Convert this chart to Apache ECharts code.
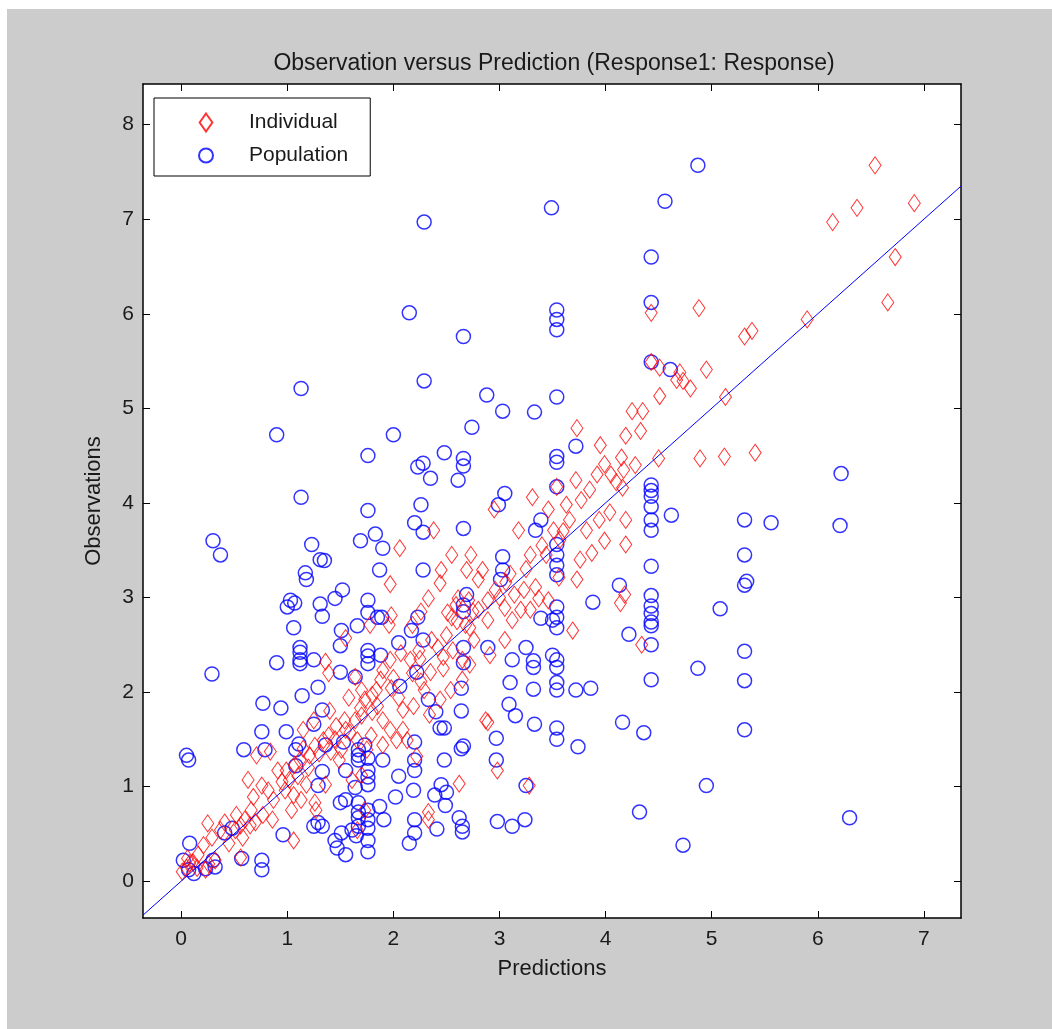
<!DOCTYPE html>
<html>
<head>
<meta charset="utf-8">
<script src="https://cdn.jsdelivr.net/npm/echarts@6/dist/echarts.min.js"></script>
<style>
html,body{margin:0;padding:0;background:#ffffff;}
#bg{position:absolute;left:7px;top:9px;width:1045px;height:1020px;background:#cccccc;}
#chart{position:absolute;left:0;top:0;width:1052px;height:1029px;}
</style>
</head>
<body>
<div id="bg"></div>
<div id="chart"></div>
<script>
// ---- Data ----
var titleText = 'Observation versus Prediction (Response1: Response)';
var xAxisName = 'Predictions';
var yAxisName = 'Observations';
var xTicks = [0, 1, 2, 3, 4, 5, 6, 7];
var yTicks = [0, 1, 2, 3, 4, 5, 6, 7, 8];
var xRange = [-0.36, 7.35];
var yRange = [-0.39, 8.43];

var individualPoints = [
[6.54,7.57],[6.91,7.17],[6.37,7.12],[6.14,6.97],[6.73,6.60],[6.66,6.12],[5.90,5.94],[4.88,6.06],[4.43,6.01],
[5.31,5.76],[5.38,5.82],[4.95,5.41],[4.43,5.49],[4.51,5.43],[4.70,5.38],[4.67,5.30],[4.73,5.29],[4.80,5.21],
[5.13,5.12],[4.51,5.13],[4.25,4.97],[4.35,4.97],[4.33,4.76],[4.19,4.71],[3.73,4.79],[3.95,4.61],[4.50,4.47],
[4.89,4.47],[5.12,4.49],[5.41,4.53],[4.15,4.48],[4.28,4.40],[3.99,4.41],[3.92,4.30],[4.05,4.30],[4.17,4.35],
[4.10,4.22],[3.85,4.14],[3.72,4.24],[3.54,4.17],[3.77,4.03],[3.63,3.98],[3.31,4.06],[2.95,3.93],[4.16,4.16],
[4.19,3.82],[4.19,3.56],[3.99,3.60],[3.82,3.71],[3.66,3.82],[3.46,3.93],[3.51,3.71],[3.57,3.61],[3.18,3.71],
[3.44,3.45],[3.29,3.45],[2.06,3.52],[2.38,3.71],[2.55,3.45],[2.45,3.29],[2.69,3.29],[1.97,3.14],[3.73,3.19],
[4.18,3.03],[4.14,2.94],[2.96,3.08],[3.06,3.16],[3.14,3.03],[3.23,3.08],[3.34,3.11],[3.37,2.99],[3.05,2.89],
[3.20,2.87],[2.80,2.87],[2.71,2.97],[2.59,2.92],[2.61,2.99],[2.51,2.84],[2.55,2.79],[2.89,2.76],[2.68,2.71],
[2.72,2.68],[2.76,2.55],[3.69,2.65],[1.78,2.71],[1.55,2.57],[1.96,2.71],[2.18,2.71],[2.36,2.55],[2.42,2.47],
[2.47,2.37],[2.56,2.44],[2.65,2.34],[2.24,2.44],[2.07,2.41],[1.97,2.34],[1.90,2.23],[1.88,2.13],[1.80,1.97],
[2.16,2.34],[2.18,2.20],[2.26,2.11],[2.35,2.21],[2.47,2.25],[2.72,2.29],[1.36,2.32],[1.39,2.20],[1.64,2.16],
[1.70,2.02],[1.73,1.92],[1.84,2.02],[1.98,2.04],[2.05,1.94],[2.09,1.81],[2.19,1.85],[2.29,2.02],[2.34,1.76],
[2.89,1.68],[2.98,1.17],[4.34,2.50],[1.58,1.94],[1.69,1.83],[1.70,1.75],[1.80,1.79],[1.90,1.70],[1.97,1.60],
[1.64,1.70],[1.54,1.70],[1.46,1.64],[1.39,1.54],[1.34,1.49],[1.26,1.43],[1.41,1.37],[1.49,1.28],[1.59,1.57],
[1.66,1.49],[1.75,1.39],[1.79,1.54],[2.09,1.60],[2.13,1.49],[2.22,1.32],[1.51,1.39],[1.21,1.33],[1.12,1.28],
[1.07,1.23],[0.99,1.17],[1.02,1.07],[1.10,1.11],[1.18,1.02],[1.06,0.91],[1.13,0.86],[0.98,0.96],[1.04,0.75],
[1.06,0.43],[0.87,0.86],[0.82,0.96],[0.76,1.01],[0.71,1.33],[0.84,1.37],[0.91,1.17],[0.63,1.07],[0.68,0.89],
[0.77,0.70],[0.86,0.65],[0.66,0.75],[0.60,0.65],[0.56,0.59],[0.58,0.46],[0.65,0.59],[0.51,0.54],[0.41,0.62],
[0.37,0.54],[0.56,0.25],[0.29,0.46],[0.25,0.61],[0.21,0.38],[0.16,0.28],[0.08,0.19],[0.05,0.14],[0.11,0.20],
[0.15,0.14],[0.01,0.10],[0.06,0.24],[0.23,0.12],[0.26,0.18],[0.32,0.22],[1.36,1.02],[1.61,1.07],[1.26,0.83],
[1.27,0.75],[1.73,0.75],[1.66,0.54],[2.33,0.65],[2.33,0.73],[2.62,1.03],[3.28,1.01],[2.87,1.70],[2.73,3.45],
[2.89,2.97],[3.12,2.76],[3.29,2.87],[3.46,2.97],[3.56,3.21],[3.76,3.40],[3.87,3.47],[3.94,3.82],[4.04,3.90],
[3.05,2.55],[2.91,2.39],[2.54,2.02],[2.65,2.13],[2.44,1.92],[1.98,2.81],[2.44,3.15],[2.33,2.99],[2.26,2.85],
[2.80,3.19],[2.84,3.29],[2.03,1.49],[1.90,1.44],[1.70,1.12],
[1.20,1.20],[1.30,1.35],[1.45,1.50],[1.55,1.60],[1.15,1.40],[0.95,1.05],[0.70,0.62],[0.52,0.70],[0.45,0.40],
[1.85,1.85],[2.00,2.15],[2.25,2.35],[2.50,2.60],[2.60,2.75],[2.75,2.85],[3.00,3.00],[3.10,3.25],[3.25,3.30],
[3.40,3.55],[3.60,3.70],[1.40,1.80],[1.25,1.70],[1.15,1.60]
];

var populationPoints = [
[4.87,7.57],[4.56,7.19],[3.49,7.12],[2.29,6.97],[4.43,6.60],[4.43,6.12],[3.54,6.04],[3.54,5.94],[3.54,5.83],
[2.15,6.01],[2.66,5.76],[4.43,5.49],[4.61,5.41],[1.13,5.21],[2.29,5.29],[2.88,5.14],[3.54,5.12],[3.03,4.97],
[3.33,4.96],[2.74,4.80],[0.90,4.72],[2.00,4.72],[1.76,4.50],[2.48,4.53],[3.54,4.49],[3.54,4.43],[2.23,4.38],
[2.28,4.42],[2.66,4.47],[2.66,4.39],[2.35,4.26],[2.61,4.24],[3.72,4.60],[4.43,4.19],[4.43,4.13],[4.43,4.07],
[3.54,4.17],[1.13,4.06],[3.05,4.10],[2.99,3.98],[2.26,3.98],[1.76,3.92],[4.62,3.87],[3.39,3.82],[5.31,3.82],
[5.56,3.79],[6.22,4.31],[6.21,3.76],[4.43,3.96],[4.43,3.82],[4.43,3.71],[2.20,3.79],[2.28,3.69],[2.66,3.73],
[3.34,3.71],[1.83,3.67],[0.30,3.60],[0.37,3.45],[1.23,3.56],[1.69,3.60],[1.90,3.52],[1.31,3.40],[1.35,3.39],
[5.31,3.45],[5.31,3.13],[5.33,3.17],[4.43,3.33],[4.13,3.13],[3.54,3.56],[3.54,3.45],[3.54,3.34],[3.54,3.24],
[3.03,3.43],[3.03,3.29],[2.28,3.29],[1.87,3.29],[1.52,3.08],[1.17,3.26],[1.18,3.19],[1.03,2.97],[1.00,2.90],
[1.07,2.94],[1.31,2.93],[1.45,2.99],[1.76,2.97],[1.85,2.79],[1.89,2.79],[1.76,2.84],[1.33,2.80],[1.06,2.68],
[1.51,2.65],[1.66,2.70],[3.88,2.95],[4.22,2.61],[4.43,3.02],[4.43,2.91],[4.43,2.83],[4.43,2.74],[4.43,2.70],
[5.08,2.88],[3.39,2.78],[3.50,2.76],[3.54,2.90],[3.54,2.79],[3.54,2.68],[2.23,2.79],[2.69,3.03],[2.66,2.92],
[2.66,2.85],[3.01,3.19],[1.12,2.47],[1.12,2.42],[1.12,2.34],[1.12,2.30],[1.25,2.34],[1.50,2.49],[1.76,2.44],
[1.76,2.38],[1.76,2.30],[1.88,2.39],[2.17,2.65],[2.28,2.55],[2.05,2.52],[2.66,2.47],[2.66,2.31],[2.89,2.47],
[3.12,2.34],[3.25,2.47],[3.32,2.33],[3.32,2.26],[3.50,2.39],[3.54,2.34],[3.54,2.26],[3.10,2.10],[3.32,2.03],
[3.54,2.10],[3.54,2.02],[3.72,2.02],[3.86,2.04],[4.87,2.25],[5.31,2.12],[5.31,2.43],[4.43,2.13],[4.43,2.50],
[0.90,2.31],[0.29,2.19],[1.14,1.96],[1.29,2.05],[1.50,2.21],[1.64,2.16],[2.06,2.06],[2.22,2.21],[2.33,1.92],
[2.64,2.04],[2.40,1.79],[2.64,1.80],[3.09,1.87],[3.33,1.66],[3.15,1.75],[2.97,1.51],[3.54,1.62],[3.54,1.50],
[4.16,1.68],[5.31,1.60],[4.36,1.57],[0.77,1.88],[0.94,1.83],[1.33,1.81],[0.76,1.58],[0.99,1.58],[1.25,1.66],
[1.11,1.45],[1.08,1.39],[0.59,1.39],[0.79,1.39],[1.36,1.44],[1.53,1.47],[1.73,1.44],[1.76,1.30],[2.44,1.62],
[2.48,1.62],[2.20,1.47],[2.66,1.43],[2.64,1.40],[3.74,1.42],[1.08,1.22],[1.33,1.16],[1.55,1.17],[1.67,1.39],
[1.67,1.33],[1.67,1.28],[1.76,1.17],[2.20,1.28],[2.20,1.17],[1.90,1.28],[2.48,1.28],[2.05,1.11],[2.97,1.28],
[0.05,1.33],[0.07,1.28],[1.29,1.01],[1.76,1.10],[1.76,1.02],[1.64,0.99],[2.45,1.02],[2.50,0.94],[2.19,0.96],
[2.39,0.91],[3.25,1.01],[4.95,1.01],[2.02,0.89],[2.49,0.80],[1.87,0.79],[1.50,0.83],[1.55,0.86],[1.67,0.83],
[1.67,0.73],[1.67,0.67],[1.67,0.58],[1.76,0.75],[1.76,0.65],[1.76,0.56],[4.32,0.73],[1.91,0.65],[2.20,0.65],
[2.20,0.51],[2.62,0.67],[2.65,0.58],[2.65,0.52],[6.30,0.67],[2.98,0.63],[3.24,0.65],[3.12,0.58],[2.41,0.55],
[0.96,0.49],[1.29,0.62],[1.25,0.58],[1.33,0.58],[1.61,0.54],[1.65,0.48],[1.45,0.43],[1.51,0.51],[1.47,0.35],
[1.55,0.28],[1.76,0.43],[1.76,0.31],[4.73,0.38],[2.15,0.40],[0.76,0.22],[0.76,0.12],[0.08,0.40],[0.02,0.22],
[0.12,0.08],[0.30,0.22],[0.32,0.15],[0.23,0.13],[0.07,0.12],[0.57,0.24],[0.41,0.51],[0.48,0.56]
];

// identity reference line spans the axis range
var identityLine = [[xRange[0], xRange[0]], [xRange[1], xRange[1]]];

var FONT = 'Arial, "Liberation Sans", sans-serif';
var chart = echarts.init(document.getElementById('chart'), null, {renderer: 'canvas'});

function axisCommon(ticks, showLabels, pos, margin) {
  return {
    type: 'value',
    position: pos,
    splitLine: {show: false},
    axisLine: {show: true, onZero: false, lineStyle: {color: '#000', width: 1.5}},
    axisTick: {show: true, inside: true, length: 7, customValues: ticks, lineStyle: {color: '#000', width: 1}},
    axisLabel: {show: showLabels, customValues: ticks, color: '#1a1a1a', fontFamily: FONT, fontSize: 21, margin: margin},
  };
}

var xBottom = Object.assign(axisCommon(xTicks, true, 'bottom', 11), {
  min: xRange[0], max: xRange[1], name: xAxisName, nameLocation: 'middle', nameGap: 40,
  nameTextStyle: {color: '#1a1a1a', fontFamily: FONT, fontSize: 22}
});
var xTop = Object.assign(axisCommon(xTicks, false, 'top', 8), {min: xRange[0], max: xRange[1]});
var yLeft = Object.assign(axisCommon(yTicks, true, 'left', 9), {
  min: yRange[0], max: yRange[1], name: yAxisName, nameLocation: 'middle', nameGap: 38,
  nameTextStyle: {color: '#1a1a1a', fontFamily: FONT, fontSize: 22}
});
var yRight = Object.assign(axisCommon(yTicks, false, 'right', 8), {min: yRange[0], max: yRange[1]});

chart.setOption({
  backgroundColor: 'transparent',
  animation: false,
  title: {
    text: titleText, left: 549, top: 47, textAlign: 'center',
    textStyle: {color: '#1a1a1a', fontFamily: FONT, fontSize: 23, fontWeight: 'normal'}
  },
  grid: {left: 143, top: 84, width: 818, height: 834, backgroundColor: '#ffffff', show: true, borderWidth: 0},
  legend: {
    left: 154, top: 98, orient: 'vertical',
    backgroundColor: '#ffffff', borderColor: '#000', borderWidth: 1,
    padding: [14, 22, 10, 44], itemGap: 12, itemWidth: 14, itemHeight: 18,
    textStyle: {color: '#1a1a1a', fontFamily: FONT, fontSize: 21, padding: [0, 0, 0, 31]},
    data: [
      {name: 'Individual', icon: 'path://M6,0L12,8.5L6,17L0,8.5Z'},
      {name: 'Population', icon: 'circle'}
    ]
  },
  xAxis: [xBottom, xTop],
  yAxis: [yLeft, yRight],
  series: [
    {
      name: 'Individual', type: 'scatter', symbol: 'diamond', symbolSize: [12, 17],
      xAxisIndex: 0, yAxisIndex: 0,
      itemStyle: {color: 'rgba(255,255,255,0)', borderColor: '#ff0000', borderWidth: 1},
      data: individualPoints, z: 3
    },
    {
      name: 'Population', type: 'scatter', symbol: 'circle', symbolSize: 14,
      xAxisIndex: 0, yAxisIndex: 0,
      itemStyle: {color: 'rgba(255,255,255,0)', borderColor: '#0000ff', borderWidth: 1.5},
      data: populationPoints, z: 2
    },
    {
      name: 'identity', type: 'line', xAxisIndex: 0, yAxisIndex: 0,
      data: identityLine, symbol: 'none', silent: true,
      lineStyle: {color: '#0000ff', width: 1}, z: 4
    }
  ]
});
</script>
</body>
</html>
